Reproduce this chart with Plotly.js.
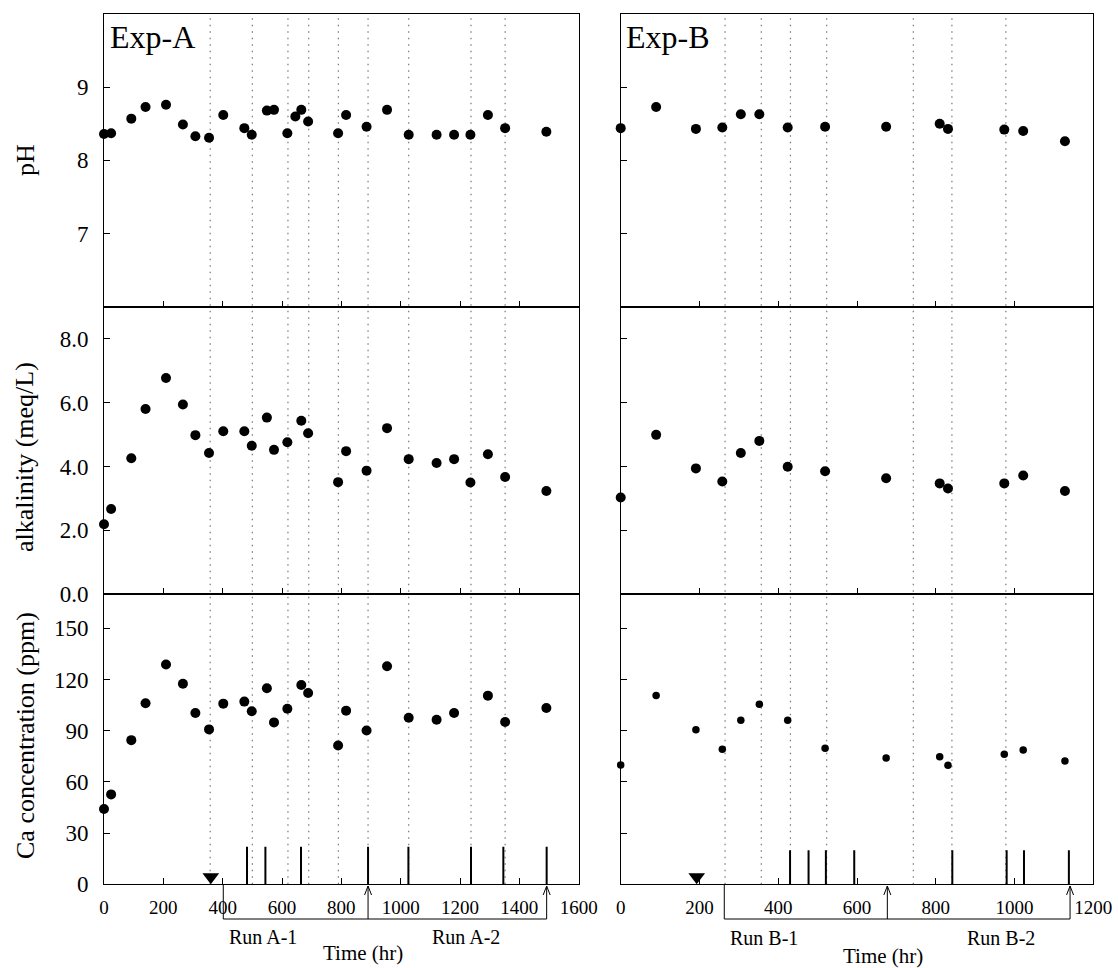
<!DOCTYPE html>
<html>
<head>
<meta charset="utf-8">
<script src="https://cdn.plot.ly/plotly-3.0.1.min.js"></script>
<style>html,body{margin:0;padding:0;background:#fff;}#chart{width:1118px;height:968px;}</style>
</head>
<body>
<div id="chart"></div>
<script>
// ---------- Exp-A data ----------
const tA_pH = [0, 24, 92, 140, 209, 266, 308, 354, 402, 473, 498, 549, 573, 618, 645, 665, 688, 789, 816, 885, 954, 1027, 1121, 1180, 1235, 1294, 1352, 1491];
const pH_A  = [8.36, 8.37, 8.57, 8.73, 8.76, 8.49, 8.33, 8.31, 8.62, 8.44, 8.35, 8.68, 8.69, 8.37, 8.60, 8.69, 8.53, 8.37, 8.62, 8.46, 8.69, 8.35, 8.35, 8.35, 8.35, 8.62, 8.44, 8.39];
const tA_alk = [0, 24, 92, 140, 209, 266, 308, 354, 402, 473, 498, 549, 573, 618, 665, 688, 789, 816, 885, 954, 1027, 1121, 1180, 1235, 1294, 1352, 1491];
const alk_A  = [2.19, 2.67, 4.26, 5.80, 6.77, 5.94, 4.98, 4.42, 5.10, 5.10, 4.65, 5.53, 4.52, 4.76, 5.43, 5.04, 3.51, 4.48, 3.87, 5.20, 4.23, 4.11, 4.23, 3.50, 4.38, 3.67, 3.23];
const tA_Ca = [0, 24, 92, 140, 209, 266, 308, 354, 402, 473, 498, 549, 573, 618, 665, 688, 789, 816, 885, 954, 1027, 1121, 1180, 1294, 1352, 1491];
const Ca_A  = [44.1, 52.7, 84.5, 106.1, 128.8, 117.6, 100.4, 90.8, 105.9, 107.1, 101.4, 114.9, 94.9, 102.9, 116.8, 112.1, 81.4, 101.8, 90.2, 127.8, 97.6, 96.5, 100.4, 110.6, 95.1, 103.3];
const dottedA = [358, 500, 620, 690, 790, 890, 1027, 1237, 1352];
const solidA  = [482, 544, 664, 890, 1026, 1237, 1346, 1492];
const solidA_height = 22;
const startA = 360;
const runStartA = 402;
const runArrowsA = [890, 1492];
const runLabelsA = ["Run A-1", "Run A-2"];
const runLabelXA = [537, 1220];

// ---------- Exp-B data ----------
const tB    = [0, 90, 191, 258, 305, 352, 424, 519, 674, 810, 831, 974, 1022, 1128];
const pH_B  = [8.44, 8.73, 8.43, 8.45, 8.63, 8.63, 8.45, 8.46, 8.46, 8.50, 8.43, 8.42, 8.40, 8.26];
const alk_B = [3.03, 4.99, 3.94, 3.53, 4.42, 4.80, 3.99, 3.85, 3.63, 3.47, 3.31, 3.47, 3.72, 3.23];
const Ca_B  = [70.0, 110.7, 90.6, 79.2, 96.2, 105.6, 96.2, 79.8, 74.1, 74.7, 69.8, 76.2, 78.8, 72.3];
const dottedB = [265, 357, 431, 523, 743, 841, 978];
const solidB  = [430, 477, 521, 593, 842, 980, 1024, 1138];
const solidB_height = 20;
const startB = 193;
const runStartB = 263;
const runArrowsB = [677, 1141];
const runLabelsB = ["Run B-1", "Run B-2"];
const runLabelXB = [365, 965];

// ---------- tick labels ----------
const xTicksA = [0, 200, 400, 600, 800, 1000, 1200, 1400, 1600];
const xTicksB = [0, 200, 400, 600, 800, 1000, 1200];
const pHTicks = [7, 8, 9];
const alkTicks = [0, 2, 4, 6, 8];
const alkTickText = ["0.0", "2.0", "4.0", "6.0", "8.0"];
const CaTicks = [0, 30, 60, 90, 120, 150];

// ---------- geometry ----------
const W = 1118, H = 968;
const px = v => v / W;
const py = v => 1 - v / H;
const colA = [px(104), px(578.7)];
const colB = [px(620.7), px(1093.3)];
const rowTop = [py(306.7), py(14)];
const rowMid = [py(594.3), py(306.7)];
const rowBot = [py(884.3), py(594.3)];
const FONT = "Liberation Serif, Times New Roman, serif";

function dots(x, y, xa, ya, size) {
  return {x: x, y: y, xaxis: xa, yaxis: ya, type: 'scatter', mode: 'markers',
          marker: {color: '#000', size: size || 10}, cliponaxis: false, showlegend: false, hoverinfo: 'x+y'};
}
const traces = [
  dots(tA_pH, pH_A, 'x', 'y'),
  dots(tB, pH_B, 'x2', 'y2'),
  dots(tA_alk, alk_A, 'x3', 'y3'),
  dots(tB, alk_B, 'x4', 'y4'),
  dots(tA_Ca, Ca_A, 'x5', 'y5'),
  dots(tB, Ca_B, 'x6', 'y6', 7.5),
  {x: [startA], y: [4.3], xaxis: 'x5', yaxis: 'y5', type: 'scatter', mode: 'markers',
   marker: {symbol: 'triangle-down', size: 14.5, color: '#000'}, cliponaxis: false, showlegend: false},
  {x: [startB], y: [4.3], xaxis: 'x6', yaxis: 'y6', type: 'scatter', mode: 'markers',
   marker: {symbol: 'triangle-down', size: 14.5, color: '#000'}, cliponaxis: false, showlegend: false}
];

function xax(domain, anchor, range, ticks, showLabels) {
  return {domain: domain, anchor: anchor, range: range, tickvals: ticks, ticks: 'inside', ticklen: 6,
          tickwidth: 1, tickcolor: '#000', showline: true, linecolor: '#000', linewidth: 1, mirror: true,
          showgrid: false, zeroline: false, showticklabels: showLabels, ticklabelstandoff: 6,
          tickfont: {family: FONT, size: 19, color: '#000'}, fixedrange: true};
}
function yax(domain, anchor, range, ticks, text, showLabels) {
  const a = {domain: domain, anchor: anchor, range: range, tickvals: ticks, ticks: 'inside', ticklen: 6,
          tickwidth: 1, tickcolor: '#000', showline: true, linecolor: '#000', linewidth: 1, mirror: true,
          showgrid: false, zeroline: false, showticklabels: showLabels, ticklabelstandoff: 10,
          tickfont: {family: FONT, size: 23, color: '#000'}, fixedrange: true};
  if (text) a.ticktext = text;
  return a;
}

const layout = {
  width: W, height: H, margin: {l: 0, r: 0, t: 0, b: 0},
  paper_bgcolor: '#fff', plot_bgcolor: 'rgba(0,0,0,0)', showlegend: false,
  font: {family: FONT, color: '#000'},
  xaxis:  xax(colA, 'y',  [0, 1600], xTicksA, false),
  xaxis2: xax(colB, 'y2', [0, 1200], xTicksB, false),
  xaxis3: xax(colA, 'y3', [0, 1600], xTicksA, false),
  xaxis4: xax(colB, 'y4', [0, 1200], xTicksB, false),
  xaxis5: xax(colA, 'y5', [0, 1600], xTicksA, true),
  xaxis6: xax(colB, 'y6', [0, 1200], xTicksB, true),
  yaxis:  yax(rowTop, 'x',  [6, 10], pHTicks, null, true),
  yaxis2: yax(rowTop, 'x2', [6, 10], pHTicks, null, false),
  yaxis3: yax(rowMid, 'x3', [0, 9], alkTicks, alkTickText, true),
  yaxis4: yax(rowMid, 'x4', [0, 9], alkTicks, alkTickText, false),
  yaxis5: yax(rowBot, 'x5', [0, 170], CaTicks, null, true),
  yaxis6: yax(rowBot, 'x6', [0, 170], CaTicks, null, false),
  shapes: [],
  annotations: []
};

// dotted event lines through all three rows
const dotLine = {color: '#777', width: 1.2, dash: '1.5px,5px'};
dottedA.forEach(t => layout.shapes.push({type: 'line', xref: 'x', yref: 'paper', x0: t, x1: t,
  y0: rowBot[0], y1: py(17), line: dotLine, layer: 'below'}));
dottedB.forEach(t => layout.shapes.push({type: 'line', xref: 'x2', yref: 'paper', x0: t, x1: t,
  y0: rowBot[0], y1: py(17), line: dotLine, layer: 'below'}));

// solid sampling bars on the Ca panels
solidA.forEach(t => layout.shapes.push({type: 'line', xref: 'x5', yref: 'y5', x0: t, x1: t,
  y0: 0, y1: solidA_height, line: {color: '#000', width: 2}}));
solidB.forEach(t => layout.shapes.push({type: 'line', xref: 'x6', yref: 'y6', x0: t, x1: t,
  y0: 0, y1: solidB_height, line: {color: '#000', width: 2}}));

// run brackets below the time axes
const yBr = py(919), yAx = rowBot[0], yTip = py(886);
function bracket(xr, start, arrows) {
  const end = arrows[arrows.length - 1];
  const ln = {color: '#000', width: 1};
  layout.shapes.push({type: 'line', xref: xr, yref: 'paper', x0: start, x1: start, y0: yAx, y1: yBr, line: ln});
  layout.shapes.push({type: 'line', xref: xr, yref: 'paper', x0: start, x1: end, y0: yBr, y1: yBr, line: ln});
  arrows.forEach(t => {
    layout.shapes.push({type: 'line', xref: xr, yref: 'paper', x0: t, x1: t, y0: yBr, y1: yTip, line: ln});
    layout.shapes.push({type: 'path', xref: xr, yref: 'paper', xsizemode: 'pixel', ysizemode: 'pixel',
      xanchor: t, yanchor: yTip, path: 'M-3.5,-9 L0,0 L3.5,-9', line: ln});
  });
}
bracket('x5', runStartA, runArrowsA);
bracket('x6', runStartB, runArrowsB);

function note(text, xr, x, y, size, extra) {
  layout.annotations.push(Object.assign({text: text, xref: xr, yref: 'paper', x: x, y: y,
    xanchor: 'center', yanchor: 'middle',
    showarrow: false, font: {family: FONT, size: size, color: '#000'}}, extra || {}));
}
runLabelsA.forEach((s, i) => note(s, 'x5', runLabelXA[i], py(937), 20));
runLabelsB.forEach((s, i) => note(s, 'x6', runLabelXB[i], py(938), 20));
note('Time (hr)', 'x5', 874, py(953), 21);
note('Time (hr)', 'x6', 666, py(956), 21);
note('Exp-A', 'paper', px(108), py(37), 32, {xanchor: 'left'});
note('Exp-B', 'paper', px(624), py(37), 32, {xanchor: 'left'});
note('pH', 'paper', px(25), py(160), 26, {textangle: -90});
note('alkalinity (meq/L)', 'paper', px(25), py(457), 26, {textangle: -90});
note('Ca concentration (ppm)', 'paper', px(25), py(736), 26, {textangle: -90});

Plotly.newPlot('chart', traces, layout, {displayModeBar: false, staticPlot: true});
</script>
</body>
</html>
